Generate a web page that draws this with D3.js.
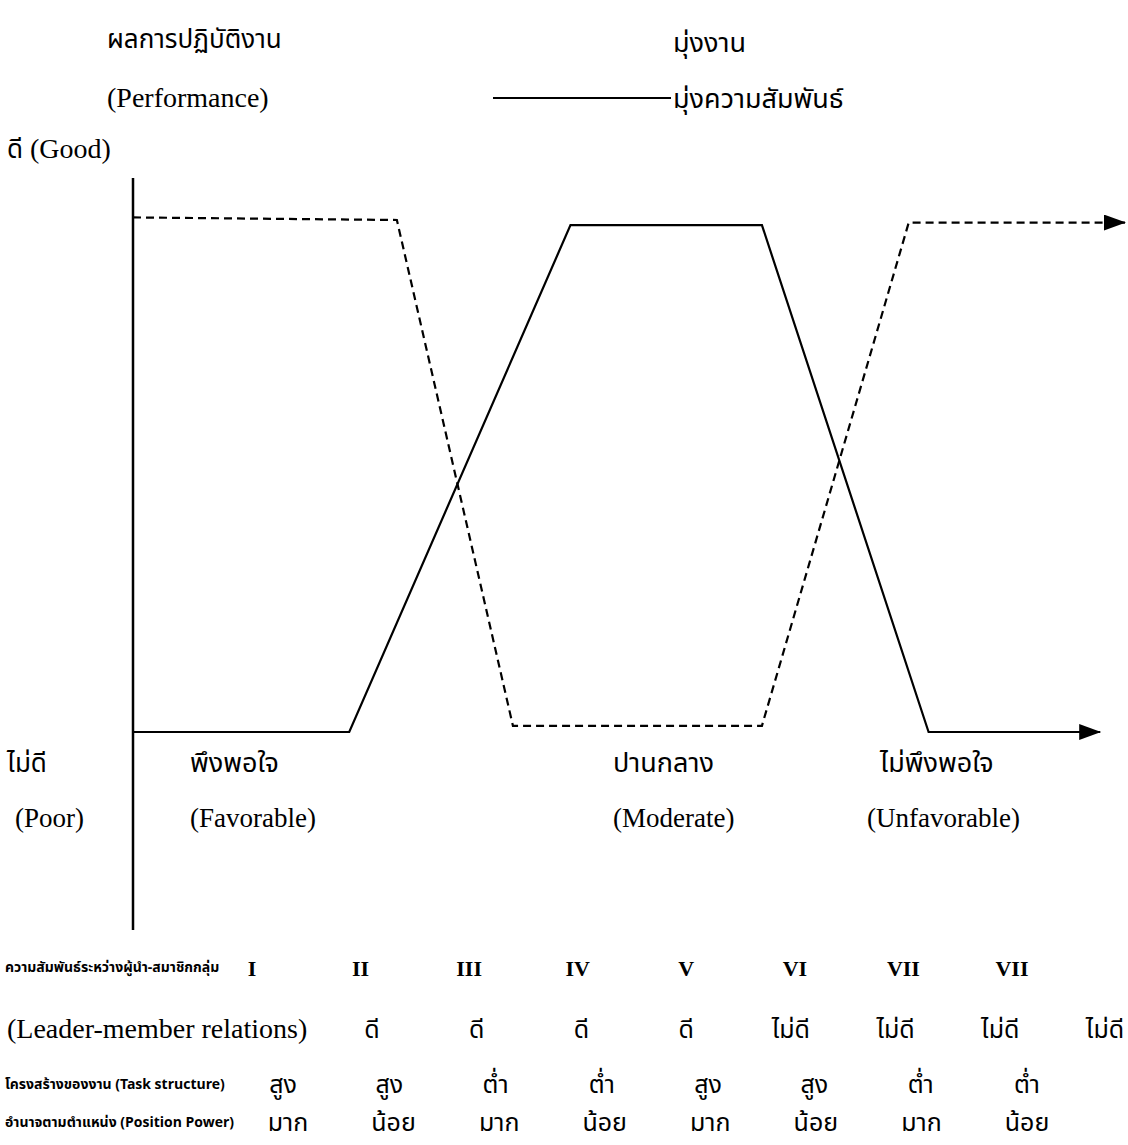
<!DOCTYPE html>
<html>
<head>
<meta charset="utf-8">
<script src="https://cdn.jsdelivr.net/npm/d3@7"></script>
<style>
  body { margin: 0; background: #fff; }
  svg { display: block; }
  .thai { font-family: "Noto Sans Thai", "Noto Sans", sans-serif; fill: #000; }
  .serif { font-family: "Liberation Serif", "Times New Roman", serif; fill: #000; }
</style>
</head>
<body>
<svg id="chart"></svg>
<script>
// ข้อมูลของกราฟ (Fiedler contingency model)
const taskX = [0, 26.6, 38.3, 63.4, 78.2, 100];
const taskY = [1.005, 1.0, 0.012, 0.012, 0.995, 0.995];
const relX = [0, 21.8, 44.1, 63.4, 80.2, 97.5];
const relY = [0, 0, 0.99, 0.99, 0, 0];

const octants = ["I", "II", "III", "IV", "V", "VI", "VII", "VII"];
const leaderMember = ["ดี", "ดี", "ดี", "ดี", "ไม่ดี", "ไม่ดี", "ไม่ดี", "ไม่ดี"];
const taskStructure = ["สูง", "สูง", "ต่ำ", "ต่ำ", "สูง", "สูง", "ต่ำ", "ต่ำ"];
const positionPower = ["มาก", "น้อย", "มาก", "น้อย", "มาก", "น้อย", "มาก", "น้อย"];

const zones = [
  { th: "พึงพอใจ", en: "(Favorable)" },
  { th: "ปานกลาง", en: "(Moderate)" },
  { th: "ไม่พึงพอใจ", en: "(Unfavorable)" }
];

const width = 1128;
const height = 1145;

const svg = d3.select("#chart").attr("width", width).attr("height", height);

const x = d3.scaleLinear().domain([0, 100]).range([133, 1125]);
const y = d3.scaleLinear().domain([0, 1]).range([732, 220]);

// หัวลูกศร
svg.append("defs").append("marker")
    .attr("id", "arrow")
    .attr("markerUnits", "userSpaceOnUse")
    .attr("viewBox", "0 0 22 16")
    .attr("markerWidth", 22).attr("markerHeight", 16)
    .attr("refX", 21).attr("refY", 8)
    .attr("orient", "auto")
    .append("path").attr("d", "M0,0 L22,8 L0,16 Z").attr("fill", "#000");

// แกนตั้ง
svg.append("line")
    .attr("x1", x(0)).attr("x2", x(0))
    .attr("y1", 178).attr("y2", 930)
    .attr("stroke", "#000").attr("stroke-width", 2.5);

const line = d3.line().x(d => x(d[0])).y(d => y(d[1]));

// มุ่งงาน (เส้นประ)
svg.append("path")
    .datum(d3.zip(taskX, taskY))
    .attr("d", line)
    .attr("fill", "none").attr("stroke", "#000").attr("stroke-width", 2.2)
    .attr("stroke-dasharray", "8,5")
    .attr("marker-end", "url(#arrow)");

// มุ่งความสัมพันธ์ (เส้นทึบ)
svg.append("path")
    .datum(d3.zip(relX, relY))
    .attr("d", line)
    .attr("fill", "none").attr("stroke", "#000").attr("stroke-width", 2.2)
    .attr("marker-end", "url(#arrow)");

// หัวข้อและคำอธิบาย
svg.append("text").attr("class", "thai").attr("x", 107).attr("y", 48).style("font-size", "26px").text("ผลการปฏิบัติงาน");
svg.append("text").attr("class", "serif").attr("x", 107).attr("y", 107).style("font-size", "28px").text("(Performance)");
svg.append("text").attr("class", "thai").attr("x", 7).attr("y", 158).style("font-size", "26px").text("ดี")
    .append("tspan").attr("class", "serif").style("font-size", "28px").text(" (Good)");

svg.append("text").attr("class", "thai").attr("x", 673).attr("y", 52).style("font-size", "27px").text("มุ่งงาน");
svg.append("line").attr("x1", 493).attr("x2", 671).attr("y1", 98).attr("y2", 98).attr("stroke", "#000").attr("stroke-width", 2);
svg.append("text").attr("class", "thai").attr("x", 673).attr("y", 108).style("font-size", "27px").text("มุ่งความสัมพันธ์");

svg.append("text").attr("class", "thai").attr("x", 7).attr("y", 772).style("font-size", "26px").text("ไม่ดี");
svg.append("text").attr("class", "serif").attr("x", 15).attr("y", 827).style("font-size", "27px").text("(Poor)");

const zoneX = [190, 613, 867];
zones.forEach((z, i) => {
  svg.append("text").attr("class", "thai").attr("x", zoneX[i] + (i === 2 ? 13 : 0)).attr("y", 772).style("font-size", "27px").text(z.th);
  svg.append("text").attr("class", "serif").attr("x", zoneX[i]).attr("y", 827).style("font-size", "27px").text(z.en);
});

// ตารางสถานการณ์
const rows = [
  { label: "ความสัมพันธ์ระหว่างผู้นำ-สมาชิกกลุ่ม", values: octants, range: [252, 1012], y: 976, cls: "serif", size: "22px", weight: "bold" },
  { label: "(Leader-member relations)", values: leaderMember, range: [372, 1105], y: 1038, cls: "thai", size: "25px" },
  { label: "โครงสร้างของงาน (Task structure)", values: taskStructure, range: [283, 1027], y: 1093, cls: "thai", size: "25px" },
  { label: "อำนาจตามตำแหน่ง (Position Power)", values: positionPower, range: [288, 1027], y: 1131, cls: "thai", size: "25px" }
];

rows.forEach((r, ri) => {
  const col = d3.scalePoint().domain(d3.range(r.values.length)).range(r.range);
  if (ri === 1) {
    svg.append("text").attr("class", "serif").attr("x", 7).attr("y", r.y).style("font-size", "28px").text(r.label);
  } else {
    svg.append("text").attr("class", "thai").attr("x", 5).attr("y", r.y - 4)
        .style("font-size", "14px").style("font-weight", "bold").text(r.label);
  }
  svg.selectAll(null).data(r.values).enter().append("text")
      .attr("class", r.cls)
      .attr("x", (d, i) => col(i)).attr("y", r.y)
      .attr("text-anchor", "middle")
      .style("font-size", r.size)
      .style("font-weight", r.weight || "normal")
      .text(d => d);
});
</script>
</body>
</html>
